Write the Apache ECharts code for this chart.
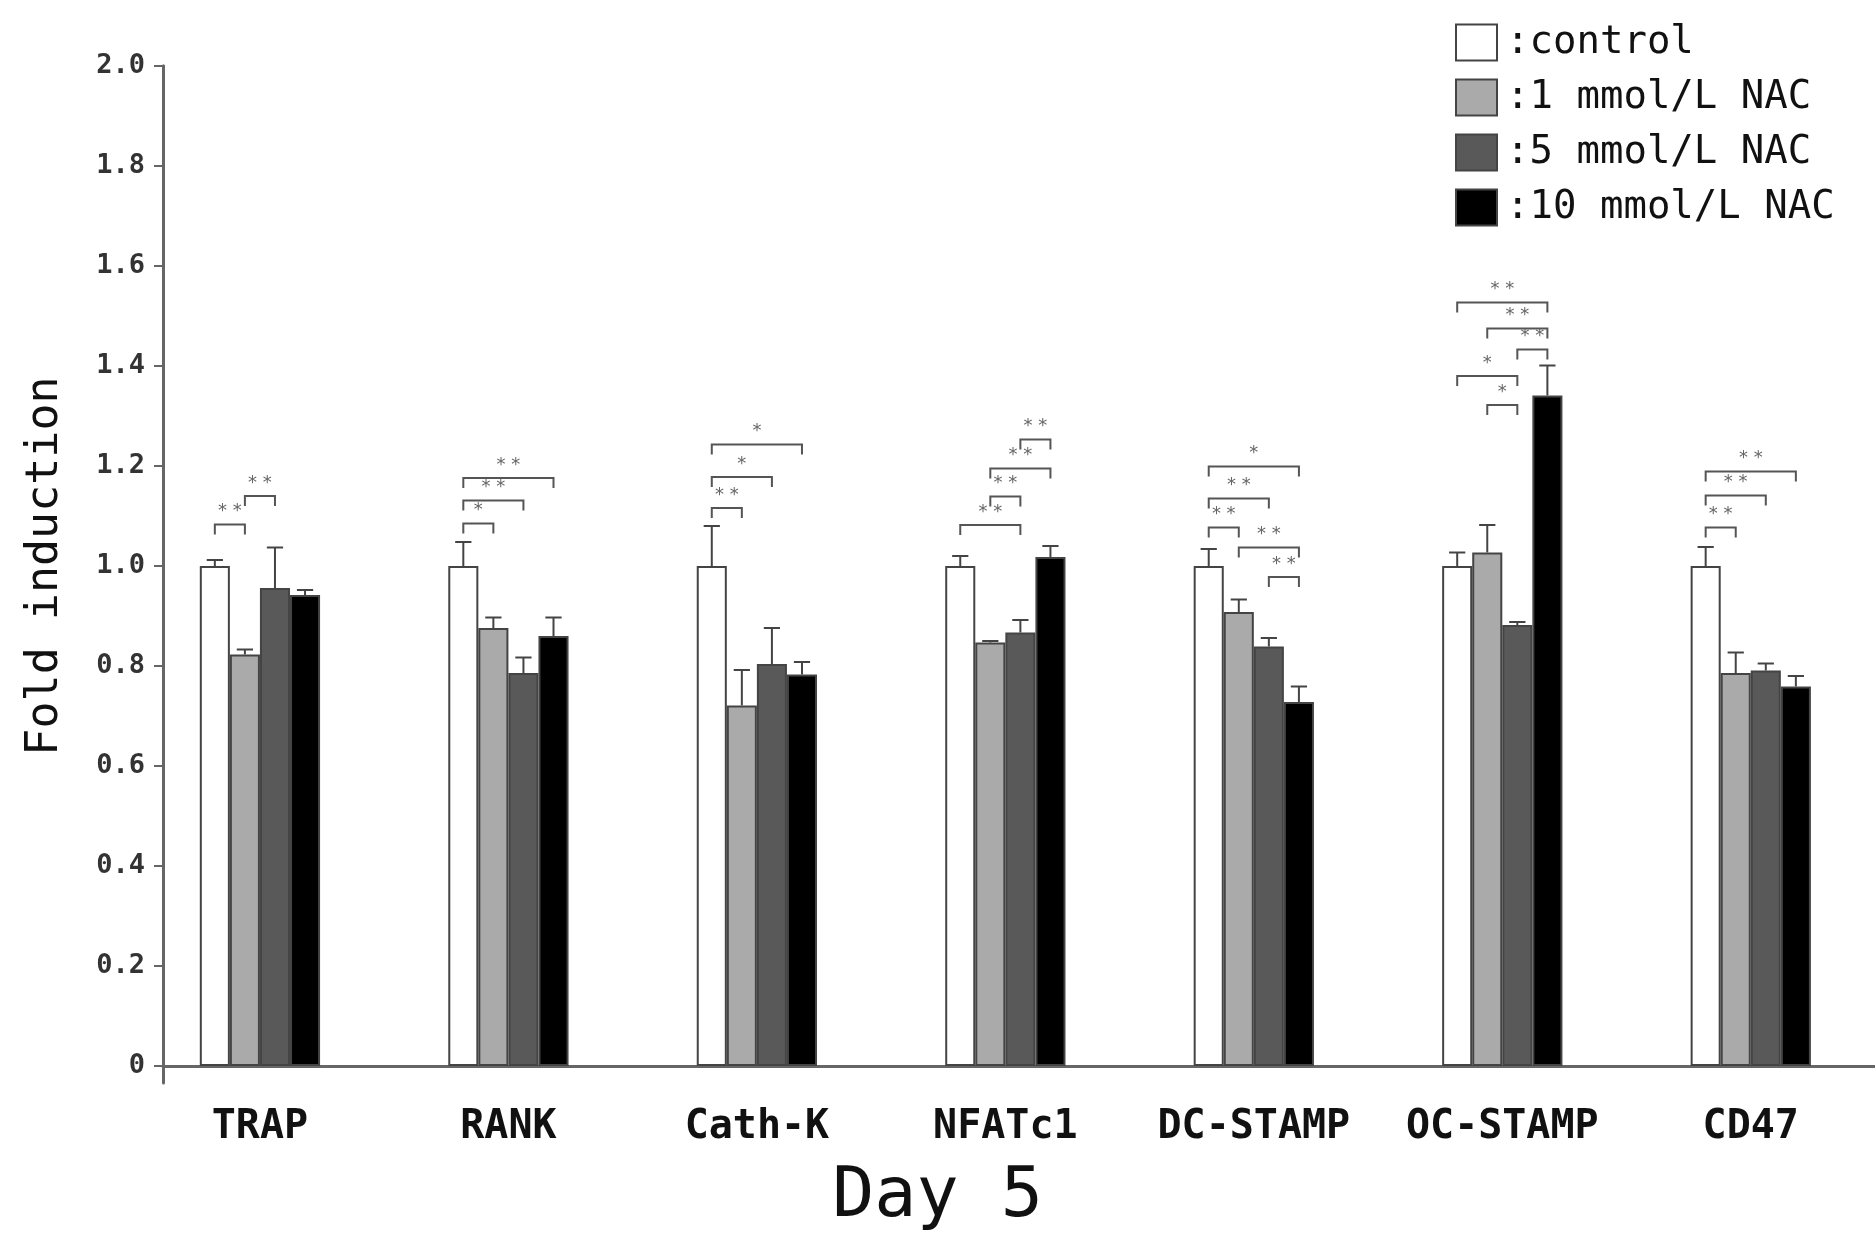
<!DOCTYPE html>
<html><head><meta charset="utf-8">
<script src="https://cdn.jsdelivr.net/npm/echarts@6/dist/echarts.min.js"></script>
<style>html,body{margin:0;padding:0;background:#fff}#c{width:1875px;height:1250px}</style>
</head><body><div id="c"></div>
<script>
// ---------------- data ----------------
const categories = ['TRAP', 'RANK', 'Cath-K', 'NFATc1', 'DC-STAMP', 'OC-STAMP', 'CD47'];
const seriesNames = ['control', '1 mmol/L NAC', '5 mmol/L NAC', '10 mmol/L NAC'];
const control = [1.000, 1.000, 1.000, 1.000, 1.000, 1.000, 1.000];
const nac1    = [0.823, 0.876, 0.721, 0.847, 0.908, 1.027, 0.786];
const nac5    = [0.956, 0.786, 0.804, 0.867, 0.839, 0.882, 0.791];
const nac10   = [0.942, 0.860, 0.783, 1.018, 0.728, 1.341, 0.759];
// standard errors (upper whisker length)
const semControl = [0.012, 0.048, 0.080, 0.020, 0.034, 0.027, 0.038];
const sem1       = [0.010, 0.021, 0.071, 0.003, 0.025, 0.055, 0.041];
const sem5       = [0.081, 0.031, 0.072, 0.025, 0.017, 0.006, 0.014];
const sem10      = [0.010, 0.037, 0.025, 0.022, 0.031, 0.060, 0.021];
// significance brackets: [category index, from bar, to bar, height, mark]
const brackets = [
  [0, 0, 1, 1.083, '**'], [0, 1, 2, 1.140, '**'],
  [1, 0, 1, 1.085, '*'], [1, 0, 2, 1.131, '**'], [1, 0, 3, 1.176, '**'],
  [2, 0, 1, 1.116, '**'], [2, 0, 2, 1.178, '*'], [2, 0, 3, 1.243, '*'],
  [3, 0, 2, 1.082, '**'], [3, 1, 2, 1.139, '**'], [3, 1, 3, 1.195, '**'], [3, 2, 3, 1.253, '**'],
  [4, 2, 3, 0.978, '**'], [4, 1, 3, 1.037, '**'], [4, 0, 1, 1.077, '**'], [4, 0, 2, 1.135, '**'], [4, 0, 3, 1.199, '*'],
  [5, 1, 2, 1.322, '*'], [5, 0, 2, 1.380, '*'], [5, 2, 3, 1.433, '**'], [5, 1, 3, 1.475, '**'], [5, 0, 3, 1.527, '**'],
  [6, 0, 1, 1.077, '**'], [6, 0, 2, 1.141, '**'], [6, 0, 3, 1.189, '**']
];
const yTicks = { min: 0, max: 2, interval: 0.2 };

// ---------------- chart ----------------
const MONO = '"DejaVu Sans Mono", "Liberation Mono", monospace';
const BAR_FRAC = 0.121;
const colors = ['#ffffff', '#aaaaaa', '#595959', '#000000'];
const means = [control, nac1, nac5, nac10];
const sems = [semControl, sem1, sem5, sem10];

function barX(api, cat, k, val) {
  const p = api.coord([cat, val]);
  const bw = api.size([1, 0])[0] * BAR_FRAC;
  return { x: p[0] + (k - 1.5) * bw, y: p[1], bw: bw };
}

const errData = [];
means.forEach((arr, k) => arr.forEach((v, c) => errData.push([c, k, v, v + sems[k][c]])));

const barSeries = seriesNames.map((name, k) => ({
  name: name,
  type: 'bar',
  xAxisIndex: 0, yAxisIndex: 0,
  barWidth: (BAR_FRAC * 100) + '%',
  barGap: '0%',
  data: means[k],
  itemStyle: { color: colors[k], borderColor: '#444', borderWidth: 2 },
  z: 2
}));

const option = {
  backgroundColor: '#ffffff',
  animation: false,
  title: {
    text: 'Day 5', left: 'center', top: 1158,
    textStyle: { fontFamily: MONO, fontSize: 70, fontWeight: 'normal', color: '#111' }
  },
  legend: {
    data: seriesNames,
    orient: 'vertical', left: 1450, top: 18,
    itemWidth: 41, itemHeight: 36, itemGap: 16,
    icon: 'rect',
    itemStyle: { borderColor: '#444', borderWidth: 2 },
    formatter: n => ':' + n,
    textStyle: { fontFamily: MONO, fontSize: 39, color: '#111', lineHeight: 36, padding: [0, 0, 0, 4] }
  },
  grid: [
    { left: 135.7, right: -29, top: 66, bottom: 184 },
    { left: 163, right: 0, top: 66, bottom: 184 },
    { left: 163, right: 0, top: 66, bottom: 167 }
  ],
  xAxis: [
    {
      type: 'category', gridIndex: 0, data: categories,
      axisLine: { show: false }, axisTick: { show: false },
      axisLabel: { interval: 0, fontFamily: MONO, fontSize: 40, fontWeight: 'bold', color: '#111', margin: 42 }
    },
    {
      type: 'value', gridIndex: 1, min: 0, max: 1,
      axisLine: { show: true, onZero: false, lineStyle: { color: '#666', width: 3 } },
      axisTick: { show: false }, axisLabel: { show: false }, splitLine: { show: false }
    },
    { type: 'value', gridIndex: 2, show: false, min: 0, max: 1 }
  ],
  yAxis: [
    { type: 'value', gridIndex: 0, min: yTicks.min, max: yTicks.max, show: false },
    {
      type: 'value', gridIndex: 1, min: yTicks.min, max: yTicks.max, interval: yTicks.interval,
      axisLine: { show: true, lineStyle: { color: '#666', width: 3 } },
      axisTick: { show: true, length: 9, lineStyle: { color: '#666', width: 2 } },
      axisLabel: {
        fontFamily: MONO, fontSize: 27, fontWeight: 'bold', color: '#333', margin: 18,
        formatter: v => (v === 0 ? '0' : v.toFixed(1))
      },
      splitLine: { show: false },
      name: 'Fold induction', nameLocation: 'middle', nameRotate: 90, nameGap: 95,
      nameTextStyle: { fontFamily: MONO, fontSize: 45, color: '#111' }
    },
    {
      type: 'value', gridIndex: 2, min: 0, max: 1,
      axisLine: { show: true, lineStyle: { color: '#666', width: 3 } },
      axisTick: { show: false }, axisLabel: { show: false }, splitLine: { show: false }
    }
  ],
  series: barSeries.concat([
    {
      name: 'errors', type: 'custom', xAxisIndex: 0, yAxisIndex: 0, z: 3,
      data: errData,
      encode: { x: 0, y: [2, 3] },
      renderItem: function (params, api) {
        const c = api.value(0), k = api.value(1);
        const a = barX(api, c, k, api.value(2));
        const b = barX(api, c, k, api.value(3));
        const cap = a.bw * 0.27;
        const st = { stroke: '#444', lineWidth: 2, fill: null };
        return {
          type: 'group', children: [
            { type: 'line', shape: { x1: a.x, y1: a.y, x2: a.x, y2: b.y }, style: st },
            { type: 'line', shape: { x1: a.x - cap, y1: b.y, x2: a.x + cap, y2: b.y }, style: st }
          ]
        };
      }
    },
    {
      name: 'significance', type: 'custom', xAxisIndex: 0, yAxisIndex: 0, z: 3,
      data: brackets.map(b => [b[0], b[1], b[2], b[3]]),
      encode: { x: 0, y: 3 },
      renderItem: function (params, api) {
        const c = api.value(0), i = api.value(1), j = api.value(2), h = api.value(3);
        const p1 = barX(api, c, i, h), p2 = barX(api, c, j, h);
        const tick = 10;
        return {
          type: 'group', children: [
            {
              type: 'polyline',
              shape: { points: [[p1.x, p1.y + tick], [p1.x, p1.y], [p2.x, p1.y], [p2.x, p1.y + tick]] },
              style: { stroke: '#555', lineWidth: 2, fill: null }
            },
            {
              type: 'text',
              style: {
                text: brackets[params.dataIndex][4].split('').join(' '),
                x: (p1.x + p2.x) / 2, y: p1.y - 4,
                align: 'center', verticalAlign: 'bottom',
                font: '18px "DejaVu Sans"', fill: '#666'
              }
            }
          ]
        };
      }
    }
  ])
};
const chart = echarts.init(document.getElementById('c'));
chart.setOption(option);
</script></body></html>
